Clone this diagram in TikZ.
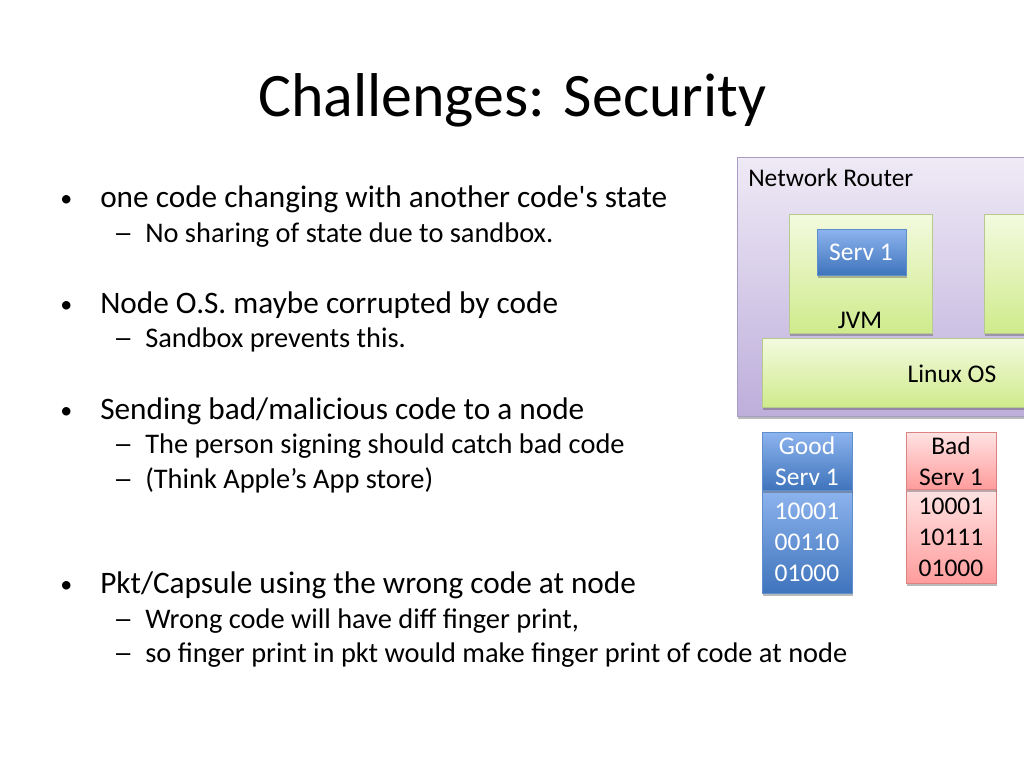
\documentclass[tikz,border=0pt]{standalone}
\usepackage{fontspec}
\setmainfont{Carlito}
\newfontfamily\plainapos{Carlito}
\usetikzlibrary{shadows}
\definecolor{bordpurple}{HTML}{A79CC4}
\definecolor{purpletop}{HTML}{EFEAF6}
\definecolor{purplebot}{HTML}{BDAEDB}
\definecolor{greentop}{HTML}{F3FADF}
\definecolor{greenbot}{HTML}{CFEB8C}
\definecolor{bordgreen}{HTML}{B7C98F}
\definecolor{bluetop}{HTML}{8DB4EE}
\definecolor{bluebot}{HTML}{3F74BC}
\definecolor{bordblue}{HTML}{5F8FCB}
\definecolor{pinktop}{HTML}{FFE3E3}
\definecolor{pinkbot}{HTML}{FF9C9C}
\definecolor{bordpink}{HTML}{D98383}
\tikzset{
  x=0.75pt,y=-0.75pt,
  box/.style={rectangle,inner sep=0pt,outer sep=0pt,anchor=north west,line width=0.7pt,
    drop shadow={shadow xshift=0.7pt,shadow yshift=-1.9pt,opacity=.38,fill=black!70}},
  routerbox/.style={box,draw=bordpurple,top color=purpletop,bottom color=purplebot},
  greenbox/.style={box,draw=bordgreen,top color=greentop,bottom color=greenbot},
  bluebox/.style={box,draw=bordblue,top color=bluetop,bottom color=bluebot},
  pinkbox/.style={box,draw=bordpink,top color=pinktop,bottom color=pinkbot},
  titletext/.style={anchor=base west,inner sep=0pt,font=\fontsize{46.4}{50}\selectfont},
  bulletmark/.style={anchor=base west,inner sep=0pt,font=\fontsize{18}{24}\selectfont},
  lvlone/.style={anchor=base west,inner sep=0pt,font=\fontsize{23.45}{26}\selectfont},
  dashmark/.style={anchor=base west,inner sep=0pt,xscale=1.4,font=\fontsize{21.3}{24}\selectfont},
  lvltwo/.style={anchor=base west,inner sep=0pt,font=\fontsize{21.3}{24}\selectfont},
  small/.style={inner sep=0pt,anchor=base,font=\fontsize{19.1}{22}\selectfont},
  smallw/.style={small,text=white},
}
\newcommand{\bx}[6]{\node[#1,minimum width=#4*0.75pt,minimum height=#5*0.75pt] (#6) at (#2,#3) {};}
\begin{document}
\begin{tikzpicture}
\useasboundingbox (0,0) rectangle (1024,768);
\clip (0,0) rectangle (1024,768);
\fill[white] (0,0) rectangle (1024,768);

\node[titletext] (title) at (258,116) {Challenges: Security};

\node[bulletmark] (b1) at (60,206) {•};
\node[lvlone] (t1) at (100,207) {one code changing with another code{\plainapos '}s state};
\node[dashmark] (d1) at (113,242) {–};
\node[lvltwo] (s1) at (145,242) {No sharing of state due to sandbox.};

\node[bulletmark] (b2) at (60,312) {•};
\node[lvlone] (t2) at (100,313) {Node O.S. maybe corrupted by code};
\node[dashmark] (d2) at (113,347) {–};
\node[lvltwo] (s2) at (145,347) {Sandbox prevents this.};

\node[bulletmark] (b3) at (60,418) {•};
\node[lvlone] (t3) at (100,419) {Sending bad/malicious code to a node};
\node[dashmark] (d3) at (113,453) {–};
\node[lvltwo] (s3) at (145,453) {The person signing should catch bad code};
\node[dashmark] (d4) at (113,488) {–};
\node[lvltwo] (s4) at (145,488) {(Think Apple’s App store)};

\node[bulletmark] (b4) at (60,592) {•};
\node[lvlone] (t4) at (100,593) {Pkt/Capsule using the wrong code at node};
\node[dashmark] (d5) at (113,628) {–};
\node[lvltwo] (s5) at (145,628) {Wrong code will have diff finger print,};
\node[dashmark] (d6) at (113,662) {–};
\node[lvltwo] (s6) at (145,662) {so finger print in pkt would make finger print of code at node};

\bx{routerbox}{737}{157}{300}{259}{router}
\node[small,anchor=base west] (routerlabel) at (748,186) {Network Router};
\bx{greenbox}{789}{214}{143}{119}{jvma}
\bx{greenbox}{984}{214}{143}{119}{jvmb}
\bx{bluebox}{817}{229}{89}{46}{serv}
\node[smallw] (servlabel) at (861,260) {Serv 1};
\node[small] (jvmlabel) at (860,328) {JVM};
\bx{greenbox}{762}{338}{300}{69}{linux}
\node[small] (linuxlabel) at (952,382) {Linux OS};

\bx{bluebox}{762}{490}{90}{103}{goodbody}
\bx{bluebox}{762}{432}{90}{58}{goodhead}
\node[smallw] (g1) at (807,454) {Good};
\node[smallw] (g2) at (807,485) {Serv 1};
\node[smallw] (g3) at (807,519) {10001};
\node[smallw] (g4) at (807,550) {00110};
\node[smallw] (g5) at (807,581) {01000};

\bx{pinkbox}{906}{489}{90}{94}{badbody}
\bx{pinkbox}{906}{432}{90}{57}{badhead}
\node[small] (r1) at (951,454) {Bad};
\node[small] (r2) at (951,485) {Serv 1};
\node[small] (r3) at (951,514) {10001};
\node[small] (r4) at (951,545) {10111};
\node[small] (r5) at (951,576) {01000};
\end{tikzpicture}
\end{document}
